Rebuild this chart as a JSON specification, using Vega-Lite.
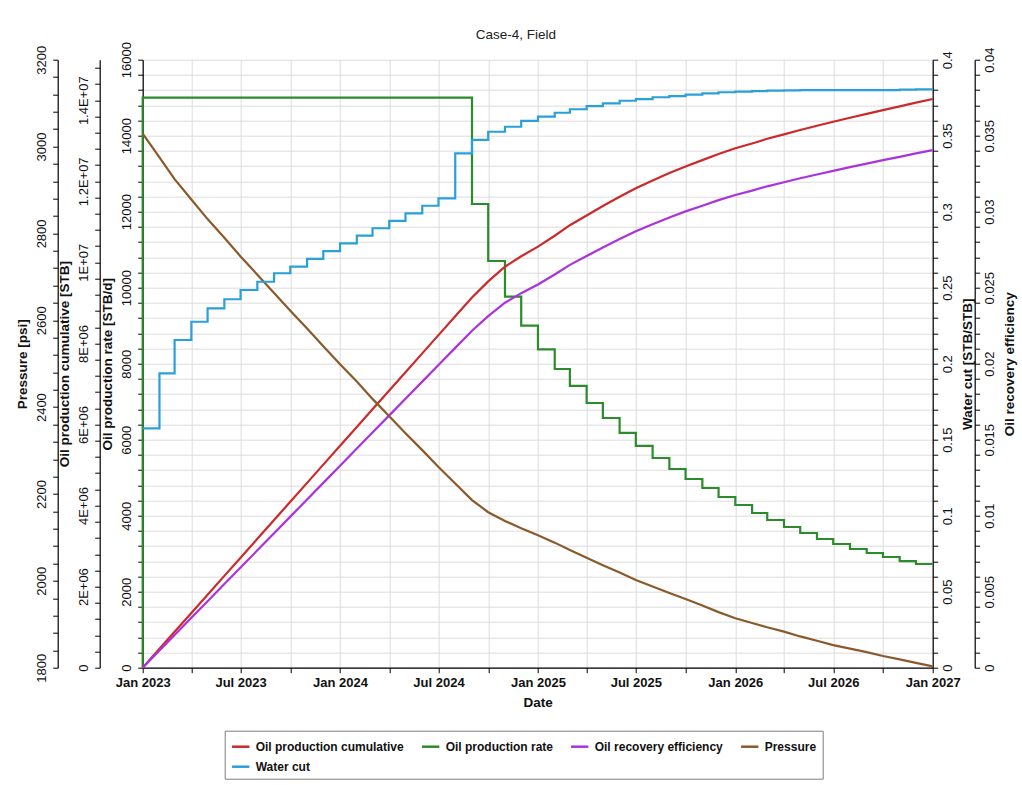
{
  "$schema": "https://vega.github.io/schema/vega-lite/v6.json",
  "width": 790,
  "height": 608,
  "autosize": {"type": "none"},
  "padding": {"left": 142.7, "top": 59.7, "right": 89.3, "bottom": 117.3},
  "title": {"text": "Case-4, Field", "fontSize": 13.5, "fontWeight": "normal", "font": "Liberation Sans", "color": "#222", "anchor": "middle", "frame": "bounds", "offset": 0},
  "data": {"values": [
    {"d": "2023-01-01T00:00", "rate": 0},
    {"d": "2023-01-01T00:00", "rate": 15000, "wc": 0.1575, "cum": 0, "re": 0, "p": 3030},
    {"d": "2023-02-01T00:00", "rate": 15000, "wc": 0.1937, "cum": 465000, "re": 0.00113, "p": 2975},
    {"d": "2023-03-01T00:00", "rate": 15000, "wc": 0.2156, "cum": 885000, "re": 0.00215, "p": 2925},
    {"d": "2023-04-01T00:00", "rate": 15000, "wc": 0.2276, "cum": 1350000, "re": 0.00328, "p": 2878},
    {"d": "2023-05-01T00:00", "rate": 15000, "wc": 0.2364, "cum": 1800000, "re": 0.00437, "p": 2833},
    {"d": "2023-06-01T00:00", "rate": 15000, "wc": 0.2424, "cum": 2265000, "re": 0.0055, "p": 2790},
    {"d": "2023-07-01T00:00", "rate": 15000, "wc": 0.2485, "cum": 2715000, "re": 0.00659, "p": 2747},
    {"d": "2023-08-01T00:00", "rate": 15000, "wc": 0.2539, "cum": 3180000, "re": 0.00772, "p": 2705},
    {"d": "2023-09-01T00:00", "rate": 15000, "wc": 0.2595, "cum": 3645000, "re": 0.00885, "p": 2663},
    {"d": "2023-10-01T00:00", "rate": 15000, "wc": 0.2638, "cum": 4095000, "re": 0.00994, "p": 2622},
    {"d": "2023-11-01T00:00", "rate": 15000, "wc": 0.2689, "cum": 4560000, "re": 0.01107, "p": 2581},
    {"d": "2023-12-01T00:00", "rate": 15000, "wc": 0.2741, "cum": 5010000, "re": 0.01216, "p": 2540},
    {"d": "2024-01-01T00:00", "rate": 15000, "wc": 0.2792, "cum": 5475000, "re": 0.01329, "p": 2499},
    {"d": "2024-02-01T00:00", "rate": 15000, "wc": 0.2842, "cum": 5940000, "re": 0.01442, "p": 2459},
    {"d": "2024-03-01T00:00", "rate": 15000, "wc": 0.2891, "cum": 6375000, "re": 0.01547, "p": 2419},
    {"d": "2024-04-01T00:00", "rate": 15000, "wc": 0.2939, "cum": 6840000, "re": 0.0166, "p": 2379},
    {"d": "2024-05-01T00:00", "rate": 15000, "wc": 0.2989, "cum": 7290000, "re": 0.01769, "p": 2340},
    {"d": "2024-06-01T00:00", "rate": 15000, "wc": 0.3039, "cum": 7755000, "re": 0.01882, "p": 2301},
    {"d": "2024-07-01T00:00", "rate": 15000, "wc": 0.3088, "cum": 8205000, "re": 0.01992, "p": 2262},
    {"d": "2024-08-01T00:00", "rate": 15000, "wc": 0.3384, "cum": 8670000, "re": 0.02104, "p": 2224},
    {"d": "2024-09-01T00:00", "rate": 12203, "wc": 0.3472, "cum": 9135000, "re": 0.02217, "p": 2186},
    {"d": "2024-10-01T00:00", "rate": 10703, "wc": 0.3526, "cum": 9530000, "re": 0.02313, "p": 2158},
    {"d": "2024-11-01T00:00", "rate": 9763, "wc": 0.3559, "cum": 9893000, "re": 0.02401, "p": 2138},
    {"d": "2024-12-01T00:00", "rate": 9000, "wc": 0.3597, "cum": 10150000, "re": 0.02464, "p": 2121},
    {"d": "2025-01-01T00:00", "rate": 8379, "wc": 0.3625, "cum": 10387000, "re": 0.02521, "p": 2105},
    {"d": "2025-02-01T00:00", "rate": 7861, "wc": 0.3651, "cum": 10657000, "re": 0.02587, "p": 2088},
    {"d": "2025-03-01T00:00", "rate": 7414, "wc": 0.3674, "cum": 10917000, "re": 0.0265, "p": 2071},
    {"d": "2025-04-01T00:00", "rate": 6966, "wc": 0.3695, "cum": 11157000, "re": 0.02708, "p": 2053},
    {"d": "2025-05-01T00:00", "rate": 6571, "wc": 0.3713, "cum": 11392000, "re": 0.02765, "p": 2036},
    {"d": "2025-06-01T00:00", "rate": 6177, "wc": 0.373, "cum": 11617000, "re": 0.0282, "p": 2019},
    {"d": "2025-07-01T00:00", "rate": 5835, "wc": 0.3741, "cum": 11827000, "re": 0.02871, "p": 2002},
    {"d": "2025-08-01T00:00", "rate": 5519, "wc": 0.3753, "cum": 12022000, "re": 0.02918, "p": 1987},
    {"d": "2025-09-01T00:00", "rate": 5229, "wc": 0.3761, "cum": 12202000, "re": 0.02962, "p": 1972},
    {"d": "2025-10-01T00:00", "rate": 4966, "wc": 0.377, "cum": 12367000, "re": 0.03002, "p": 1958},
    {"d": "2025-11-01T00:00", "rate": 4729, "wc": 0.3779, "cum": 12522000, "re": 0.03039, "p": 1943},
    {"d": "2025-12-01T00:00", "rate": 4492, "wc": 0.3786, "cum": 12672000, "re": 0.03076, "p": 1928},
    {"d": "2026-01-01T00:00", "rate": 4282, "wc": 0.379, "cum": 12814000, "re": 0.0311, "p": 1914},
    {"d": "2026-02-01T00:00", "rate": 4071, "wc": 0.3793, "cum": 12934000, "re": 0.03139, "p": 1903},
    {"d": "2026-03-01T00:00", "rate": 3887, "wc": 0.3796, "cum": 13049000, "re": 0.03167, "p": 1893},
    {"d": "2026-04-01T00:00", "rate": 3703, "wc": 0.3798, "cum": 13159000, "re": 0.03194, "p": 1883},
    {"d": "2026-05-01T00:00", "rate": 3545, "wc": 0.38, "cum": 13266000, "re": 0.0322, "p": 1872},
    {"d": "2026-06-01T00:00", "rate": 3387, "wc": 0.38, "cum": 13370000, "re": 0.03245, "p": 1862},
    {"d": "2026-07-01T00:00", "rate": 3255, "wc": 0.38, "cum": 13470000, "re": 0.03269, "p": 1852},
    {"d": "2026-08-01T00:00", "rate": 3124, "wc": 0.38, "cum": 13567000, "re": 0.03293, "p": 1844},
    {"d": "2026-09-01T00:00", "rate": 3018, "wc": 0.38, "cum": 13662000, "re": 0.03316, "p": 1836},
    {"d": "2026-10-01T00:00", "rate": 2913, "wc": 0.38, "cum": 13755000, "re": 0.03339, "p": 1827},
    {"d": "2026-11-01T00:00", "rate": 2807, "wc": 0.3803, "cum": 13848000, "re": 0.03361, "p": 1819},
    {"d": "2026-12-01T00:00", "rate": 2729, "wc": 0.3805, "cum": 13940000, "re": 0.03384, "p": 1811},
    {"d": "2027-01-01T00:00", "rate": 2729, "wc": 0.3805, "cum": 14030000, "re": 0.03405, "p": 1803}
  ]},
  "config": {
    "font": "Liberation Sans",
    "view": {"stroke": null},
    "axis": {
      "domainColor": "#000", "domainWidth": 1.2, "tickColor": "#000", "tickSize": 5, "tickWidth": 1,
      "labelColor": "#111", "labelFontSize": 13, "labelFont": "Liberation Sans",
      "titleFont": "Liberation Sans", "titleFontSize": 13.5, "titleFontWeight": "bold", "titleColor": "#111",
      "labelOverlap": false, "labelFlush": false, "labelBound": false,
      "gridColor": "#dcdcdc", "gridWidth": 1, "grid": false
    }
  },
  "layer": [
    {
      "mark": {"type": "line", "interpolate": "step-after", "strokeWidth": 2.2},
      "encoding": {
        "x": {
          "field": "d", "type": "temporal",
          "scale": {"domain": [{"year": 2023, "month": 1, "date": 1}, {"year": 2027, "month": 1, "date": 1}]},
          "axis": {
            "title": "Date", "titleFontSize": 13.5, "titlePadding": 6,
            "labelFontWeight": "bold", "labelFontSize": 13, "labelPadding": 4,
            "grid": true,
            "values": [
              {"year": 2023, "month": 1, "date": 1}, {"year": 2023, "month": 2, "date": 15, "hours": 12}, {"year": 2023, "month": 4, "date": 1}, {"year": 2023, "month": 5, "date": 16},
              {"year": 2023, "month": 7, "date": 1}, {"year": 2023, "month": 8, "date": 16}, {"year": 2023, "month": 10, "date": 1}, {"year": 2023, "month": 11, "date": 16},
              {"year": 2024, "month": 1, "date": 1}, {"year": 2024, "month": 2, "date": 15, "hours": 12}, {"year": 2024, "month": 4, "date": 1}, {"year": 2024, "month": 5, "date": 16},
              {"year": 2024, "month": 7, "date": 1}, {"year": 2024, "month": 8, "date": 16}, {"year": 2024, "month": 10, "date": 1}, {"year": 2024, "month": 11, "date": 16},
              {"year": 2025, "month": 1, "date": 1}, {"year": 2025, "month": 2, "date": 15, "hours": 12}, {"year": 2025, "month": 4, "date": 1}, {"year": 2025, "month": 5, "date": 16},
              {"year": 2025, "month": 7, "date": 1}, {"year": 2025, "month": 8, "date": 16}, {"year": 2025, "month": 10, "date": 1}, {"year": 2025, "month": 11, "date": 16},
              {"year": 2026, "month": 1, "date": 1}, {"year": 2026, "month": 2, "date": 15, "hours": 12}, {"year": 2026, "month": 4, "date": 1}, {"year": 2026, "month": 5, "date": 16},
              {"year": 2026, "month": 7, "date": 1}, {"year": 2026, "month": 8, "date": 16}, {"year": 2026, "month": 10, "date": 1}, {"year": 2026, "month": 11, "date": 16},
              {"year": 2027, "month": 1, "date": 1}
            ],
            "labelExpr": "(date(datum.value) == 1 && month(datum.value) % 6 == 0) ? timeFormat(datum.value, '%b %Y') : ''"
          }
        },
        "y": {
          "field": "rate", "type": "quantitative",
          "scale": {"domain": [0, 16000], "nice": false, "zero": false},
          "axis": {
            "title": "Oil production rate [STB/d]", "orient": "left", "grid": true, "labelAngle": -90, "labelPadding": 4, "titlePadding": 6,
            "values": [0,400,800,1200,1600,2000,2400,2800,3200,3600,4000,4400,4800,5200,5600,6000,6400,6800,7200,7600,8000,8400,8800,9200,9600,10000,10400,10800,11200,11600,12000,12400,12800,13200,13600,14000,14400,14800,15200,15600,16000],
            "labelExpr": "datum.value % 2000 == 0 ? format(datum.value, 'd') : ''"
          }
        },
        "color": {
          "datum": "Oil production rate", "type": "nominal",
          "scale": {
            "domain": ["Oil production cumulative", "Oil production rate", "Oil recovery efficiency", "Pressure", "Water cut"],
            "range": ["#cc2a2a", "#2a8c2a", "#aa33dd", "#8b5a2b", "#2aa0d8"]
          },
          "legend": {
            "title": null, "orient": "none", "legendX": 82, "legendY": 671, "direction": "horizontal", "columns": 4,
            "strokeColor": "#7f7f7f", "fillColor": "#ffffff", "padding": 6, "columnPadding": 12, "rowPadding": 4,
            "symbolType": "stroke", "symbolStrokeWidth": 2.5, "symbolSize": 300, "labelOffset": 5, "labelLimit": 400,
            "labelFont": "Liberation Sans", "labelFontWeight": "bold", "labelFontSize": 12, "labelColor": "#111"
          }
        }
      }
    },
    {
      "mark": {"type": "line", "strokeWidth": 2.2},
      "encoding": {
        "x": {"field": "d", "type": "temporal"},
        "y": {
          "field": "cum", "type": "quantitative",
          "scale": {"domain": [0, 15000000], "nice": false, "zero": false},
          "axis": {
            "title": "Oil production cumulative [STB]", "orient": "left", "offset": 43, "labelAngle": -90, "labelPadding": 4, "titlePadding": 6,
            "values": [0,400000,800000,1200000,1600000,2000000,2400000,2800000,3200000,3600000,4000000,4400000,4800000,5200000,5600000,6000000,6400000,6800000,7200000,7600000,8000000,8400000,8800000,9200000,9600000,10000000,10400000,10800000,11200000,11600000,12000000,12400000,12800000,13200000,13600000,14000000,14400000,14800000],
            "labelExpr": "datum.value == 0 ? '0' : (datum.value % 2000000 != 0 ? '' : (round(datum.value / pow(10, floor(log(datum.value) / LN10 + 1e-9)) * 10) / 10) + 'E+' + (floor(log(datum.value) / LN10 + 1e-9) < 10 ? '0' : '') + floor(log(datum.value) / LN10 + 1e-9))"
          }
        },
        "color": {"datum": "Oil production cumulative", "type": "nominal"}
      }
    },
    {
      "mark": {"type": "line", "strokeWidth": 2.2},
      "encoding": {
        "x": {"field": "d", "type": "temporal"},
        "y": {
          "field": "re", "type": "quantitative",
          "scale": {"domain": [0, 0.04], "nice": false, "zero": false},
          "axis": {
            "title": "Oil recovery efficiency", "orient": "right", "offset": 42, "labelAngle": -90, "labelPadding": 4, "titlePadding": 6,
            "titleAngle": 270, "titleBaseline": "top",
            "values": [0,0.001,0.002,0.003,0.004,0.005,0.006,0.007,0.008,0.009,0.01,0.011,0.012,0.013,0.014,0.015,0.016,0.017,0.018,0.019,0.02,0.021,0.022,0.023,0.024,0.025,0.026,0.027,0.028,0.029,0.03,0.031,0.032,0.033,0.034,0.035,0.036,0.037,0.038,0.039,0.04],
            "labelExpr": "abs(datum.value * 200 - round(datum.value * 200)) < 1e-6 ? format(datum.value, '.3~f') : ''"
          }
        },
        "color": {"datum": "Oil recovery efficiency", "type": "nominal"}
      }
    },
    {
      "mark": {"type": "line", "strokeWidth": 2.2},
      "encoding": {
        "x": {"field": "d", "type": "temporal"},
        "y": {
          "field": "p", "type": "quantitative",
          "scale": {"domain": [1800, 3200], "nice": false, "zero": false},
          "axis": {
            "title": "Pressure [psi]", "orient": "left", "offset": 85, "labelAngle": -90, "labelPadding": 4, "titlePadding": 6,
            "values": [1800,1840,1880,1920,1960,2000,2040,2080,2120,2160,2200,2240,2280,2320,2360,2400,2440,2480,2520,2560,2600,2640,2680,2720,2760,2800,2840,2880,2920,2960,3000,3040,3080,3120,3160,3200],
            "labelExpr": "(datum.value - 1800) % 200 == 0 ? format(datum.value, 'd') : ''"
          }
        },
        "color": {"datum": "Pressure", "type": "nominal"}
      }
    },
    {
      "mark": {"type": "line", "interpolate": "step-after", "strokeWidth": 2.2},
      "encoding": {
        "x": {"field": "d", "type": "temporal"},
        "y": {
          "field": "wc", "type": "quantitative",
          "scale": {"domain": [0, 0.4], "nice": false, "zero": false},
          "axis": {
            "title": "Water cut [STB/STB]", "orient": "right", "labelAngle": -90, "labelPadding": 4, "titlePadding": 6,
            "titleAngle": 270, "titleBaseline": "top",
            "values": [0,0.01,0.02,0.03,0.04,0.05,0.06,0.07,0.08,0.09,0.1,0.11,0.12,0.13,0.14,0.15,0.16,0.17,0.18,0.19,0.2,0.21,0.22,0.23,0.24,0.25,0.26,0.27,0.28,0.29,0.3,0.31,0.32,0.33,0.34,0.35,0.36,0.37,0.38,0.39,0.4],
            "labelExpr": "abs(datum.value * 20 - round(datum.value * 20)) < 1e-6 ? format(datum.value, '.2~f') : ''"
          }
        },
        "color": {"datum": "Water cut", "type": "nominal"}
      }
    }
  ],
  "resolve": {"scale": {"y": "independent"}, "axis": {"y": "independent"}}
}
